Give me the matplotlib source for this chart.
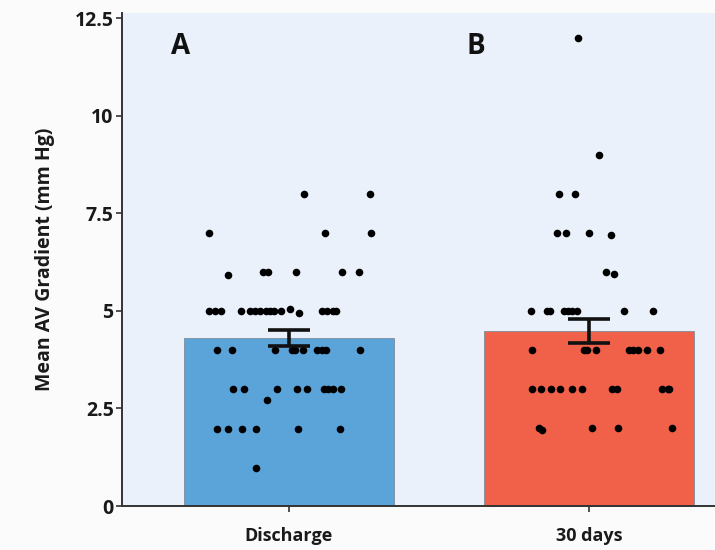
import matplotlib
matplotlib.use("Agg")
import matplotlib.pyplot as plt
import numpy as np

plt.rcParams['font.family'] = ['Open Sans', 'DejaVu Sans']

categories = ["Discharge", "30 days"]
bar_means = [4.30, 4.48]
bar_sems = [0.205, 0.30]
bar_colors = ["#5ba4da", "#f1614a"]
panel_letters = ["A", "B"]

# Discharge dots: values and horizontal offsets
dis_values = [8, 8,
              7, 7, 7,
              5.92, 6, 6, 6, 6, 6,
              5, 5, 5, 5, 5, 5, 5, 5, 5, 5, 5, 5.05, 4.95, 5, 5, 5, 5,
              4, 4, 4, 4, 4, 4, 4, 4, 4, 4,
              3, 3, 3, 3, 3, 3, 3, 3, 3, 2.72,
              1.97, 1.97, 1.97, 1.97, 1.97, 1.97,
              0.97]
dis_offsets = [0.052, 0.272,
               -0.265, 0.122, 0.275,
               -0.202, -0.085, -0.068, 0.025, 0.178, 0.235,
               -0.265, -0.245, -0.225, -0.158, -0.128, -0.112, -0.095, -0.075,
               -0.062, -0.048, -0.025, 0.005, 0.035, 0.112, 0.128, 0.148, 0.158,
               -0.238, -0.188, -0.045, 0.012, 0.022, 0.048, 0.095, 0.112, 0.125, 0.238,
               -0.185, -0.148, -0.038, 0.028, 0.062, 0.118, 0.132, 0.148, 0.175, -0.072,
               -0.238, -0.202, -0.155, -0.108, 0.032, 0.172,
               -0.108]

# 30 days dots
d30_values = [12,
              9,
              8, 8,
              7, 7, 7, 6.95,
              6, 5.95,
              5, 5, 5, 5, 5, 5, 5, 5, 5,
              4, 4, 4, 4, 4, 4, 4, 4, 4,
              3, 3, 3, 3, 3, 3, 3, 3, 3, 3, 3,
              2, 2, 1.95, 2, 2]
d30_offsets = [-0.035,
               0.032,
               -0.098, -0.045,
               -0.105, -0.075, 0.002, 0.072,
               0.058, 0.085,
               -0.192, -0.138, -0.128, -0.082, -0.068, -0.055, -0.038, 0.118, 0.212, 0.238,
               -0.188, -0.015, -0.005, 0.025, 0.132, 0.148, 0.162, 0.192, 0.268,
               -0.188, -0.158, -0.125, -0.095, -0.055, -0.022, 0.078, 0.095, 0.245, 0.262, 0.278,
               -0.165, -0.155, 0.012, 0.098, 0.265]

fig = plt.figure(figsize=(7.15, 5.5), dpi=100)
fig.patch.set_facecolor("#fbfbfb")
ax = fig.add_axes([122/715, 44/550, 593/715, 493/550])
ax.set_facecolor("#eaf1fb")

x = np.arange(len(categories))
ax.bar(x, bar_means, width=0.70, color=bar_colors, edgecolor="#7f8c99",
       linewidth=0.6, zorder=2)

ax.errorbar(x, bar_means, yerr=bar_sems, fmt="none", ecolor="#111111",
            elinewidth=2.6, capsize=15, capthick=2.6, zorder=4)

ax.scatter(x[0] + np.array(dis_offsets[:len(dis_values)]), dis_values,
           s=30, color="black", zorder=3, linewidths=0)
ax.scatter(x[1] + np.array(d30_offsets[:len(d30_values)]), d30_values,
           s=30, color="black", zorder=3, linewidths=0)

for xi, letter in zip([-0.36, 0.625], panel_letters):
    ax.text(xi, 11.76, letter, fontsize=20, fontweight="bold",
            ha="center", va="center", color="#111111")

ax.set_xlim(-0.555, 1.42)
ax.set_ylim(0, 12.63)
ax.set_yticks([0, 2.5, 5, 7.5, 10, 12.5])
ax.set_yticklabels(["0", "2.5", "5", "7.5", "10", "12.5"])
ax.set_xticks(x)
ax.set_xticklabels(categories)

for side in ["top", "right"]:
    ax.spines[side].set_visible(False)
for side in ["left", "bottom"]:
    ax.spines[side].set_color("#333333")
    ax.spines[side].set_linewidth(1.4)

ax.tick_params(axis="y", length=4, width=1.2, colors="#333333", labelsize=14,
               labelcolor="#1a1a1a", pad=2)
ax.tick_params(axis="x", length=4, width=1.2, colors="#333333", labelsize=13,
               labelcolor="#1a1a1a", pad=11)
for lbl in ax.get_yticklabels() + ax.get_xticklabels():
    lbl.set_fontweight("bold")

ax.set_ylabel("Mean AV Gradient (mm Hg)", fontsize=14, fontweight="bold",
              color="#1a1a1a", labelpad=14)

fig.savefig("out.png", dpi=100, facecolor=fig.get_facecolor())
